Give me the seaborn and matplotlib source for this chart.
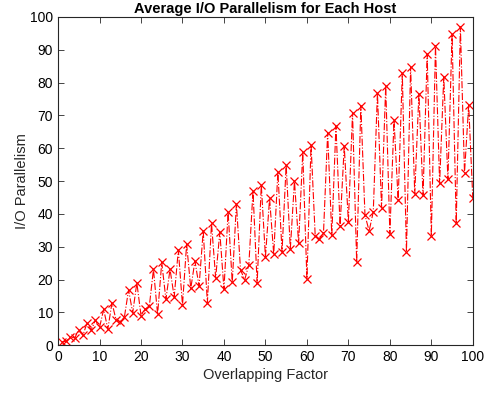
import numpy as np
import pandas as pd
import matplotlib
matplotlib.use('Agg')
import matplotlib.pyplot as plt
import seaborn as sns

# Overlapping factor 1..100 and the averaged I/O parallelism
overlap = list(range(1, 101))
parallelism = [
    1.0, 1.2, 2.5, 2.2, 4.6, 3.0, 6.8, 4.6, 7.6, 5.4,
    10.9, 4.9, 12.9, 7.6, 7.1, 8.6, 16.8, 9.9, 19.0, 9.0,
    11.0, 11.8, 23.1, 9.4, 25.2, 14.0, 23.1, 14.7, 29.0, 12.2,
    30.8, 17.3, 25.6, 18.0, 34.8, 12.9, 37.1, 20.5, 34.4, 17.0,
    40.6, 19.1, 43.0, 22.9, 19.9, 24.5, 47.0, 18.8, 48.8, 26.9,
    44.7, 27.7, 52.8, 28.5, 54.9, 29.3, 50.0, 31.0, 58.8, 20.2,
    61.0, 33.3, 32.3, 34.2, 64.7, 33.5, 66.8, 36.3, 60.6, 37.6,
    70.8, 25.4, 73.0, 39.6, 34.8, 40.6, 76.9, 41.9, 79.0, 34.0,
    68.6, 44.2, 82.8, 28.5, 84.8, 46.2, 76.6, 45.7, 88.7, 33.3,
    91.2, 49.3, 81.8, 50.5, 94.8, 37.1, 97.0, 52.5, 73.2, 44.7,
]
xticks = list(range(0, 101, 10))
yticks = list(range(0, 101, 10))

df = pd.DataFrame({'Overlapping Factor': overlap, 'I/O Parallelism': parallelism})

sns.set_style('ticks')
plt.rcParams['font.family'] = ['Liberation Sans', 'DejaVu Sans']
plt.rcParams['xtick.direction'] = 'in'
plt.rcParams['ytick.direction'] = 'in'

fig = plt.figure(figsize=(4.92, 3.94), dpi=100)
ax = fig.add_axes([0.118, 0.124, 0.843, 0.833])

sns.lineplot(data=df, x='Overlapping Factor', y='I/O Parallelism', ax=ax,
             color='red', linestyle='-.', linewidth=0.8,
             marker='x', markersize=5.5, markeredgewidth=0.9, markeredgecolor='red')

ax.set_xlim(0, 100)
ax.set_ylim(0, 100)
ax.set_xticks(xticks)
ax.set_yticks(yticks)
ax.tick_params(axis='both', which='both', top=True, right=True,
               labelsize=10, length=4, width=0.6, color='#262626', labelcolor='black')
for sp in ax.spines.values():
    sp.set_visible(True)
    sp.set_linewidth(0.8)
    sp.set_color('#262626')

ax.set_xlabel('Overlapping Factor', fontsize=10.5, color='#262626', labelpad=3)
ax.set_ylabel('I/O Parallelism', fontsize=10.5, color='#262626', labelpad=1)
ax.set_title('Average I/O Parallelism for Each Host', fontsize=10.5,
             fontweight='bold', color='black', pad=3)

fig.savefig('out.png', dpi=100)
plt.close(fig)
